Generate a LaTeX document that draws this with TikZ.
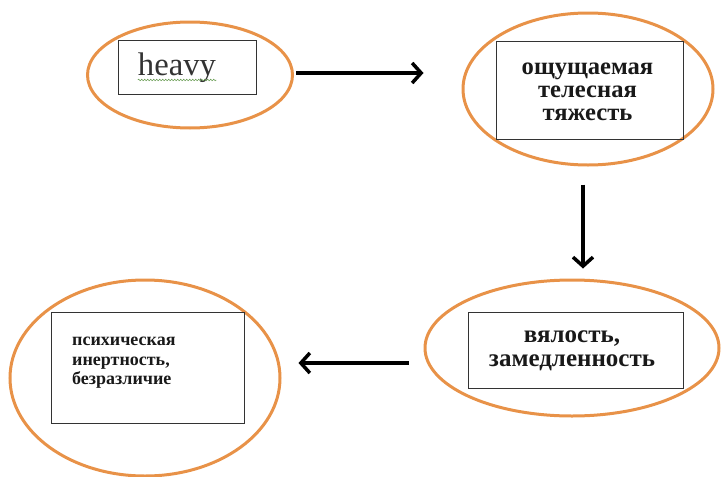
\documentclass[tikz,border=0pt]{standalone}
\usepackage{fontspec}
\setmainfont{Liberation Serif}
\usetikzlibrary{shapes.geometric,arrows.meta,decorations.pathmorphing}
\definecolor{ringorange}{RGB}{232,146,72}
\definecolor{spellgreen}{RGB}{110,160,90}
\tikzset{
  ring/.style={draw=ringorange, line width=3pt, ellipse, inner sep=0pt},
  frame/.style={draw=black!80, line width=0.9pt, rectangle, inner sep=0pt},
  arr/.style={-{Straight Barb[length=9pt,width=20pt,line width=3.5pt]}, line width=3.5pt, black},
  boldtxt/.style={inner sep=0pt, text=black!90},
}
\begin{document}
\begin{tikzpicture}[x=1pt,y=-1pt]
\useasboundingbox (0,0) rectangle (721,477);
% ellipses
\node[ring, minimum width=205pt, minimum height=106pt] (e1) at (190,75) {};
\node[ring, minimum width=250pt, minimum height=152pt] (e2) at (588,89) {};
\node[ring, minimum width=270pt, minimum height=196pt] (e3) at (145,378) {};
\node[ring, minimum width=294pt, minimum height=136pt] (e4) at (572,348) {};
% boxes
\node[frame, minimum width=138pt, minimum height=54pt] (b1) at (187,67) {};
\node[frame, minimum width=187pt, minimum height=98pt] (b2) at (589.5,90) {};
\node[frame, minimum width=193pt, minimum height=111pt] (b3) at (147.5,367.5) {};
\node[frame, minimum width=215pt, minimum height=76pt] (b4) at (575.5,350) {};
% texts
\node[inner sep=0pt, anchor=base, text=black!80, font=\fontsize{32.7}{36}\selectfont] (t1) at (177,75) {heavy};
\draw[spellgreen, line width=0.6pt, decorate, decoration={snake, amplitude=0.8pt, segment length=3pt}]
  ([yshift=-5pt]t1.base west) -- ([yshift=-5pt]t1.base east);
\node[boldtxt, anchor=north, align=center, font=\bfseries\fontsize{24.6}{23}\selectfont] (t2) at (587.5,63) {ощущаемая\\телесная\\тяжесть};
\node[boldtxt, anchor=north west, align=left, font=\bfseries\fontsize{18}{19.5}\selectfont] (t3) at (72,337) {психическая\\инертность,\\безразличие};
\node[boldtxt, anchor=north, align=center, font=\bfseries\fontsize{25}{24.5}\selectfont] (t4) at (572,330.5) {вялость,\\замедленность};
% arrows
\draw[arr, shorten <=2pt, shorten >=38pt] ([yshift=2pt]e1.east) -- ([yshift=2pt]e1.east -| e2.west);
\draw[arr, shorten <=18pt, shorten >=10pt] ([xshift=-5pt]e2.south) -- ([xshift=-5pt]e2.south |- e4.north);
\draw[arr, shorten <=15pt, shorten >=17pt] ([yshift=-15pt]e4.west) -- ([yshift=-15pt]e4.west -| e3.east);
\end{tikzpicture}
\end{document}
